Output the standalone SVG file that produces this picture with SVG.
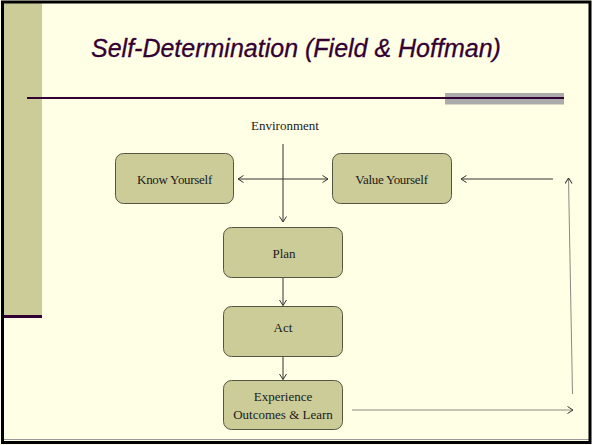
<svg xmlns="http://www.w3.org/2000/svg" width="592" height="445" viewBox="0 0 592 445">
<style>
.node rect{fill:#CCCC99;stroke:#555544;stroke-width:1}
.node text,.lbl{font-family:"Liberation Serif",serif;font-size:13px;fill:#1a1a1a;text-anchor:middle}
.c{stroke:#333;stroke-width:1;fill:none}
.g{stroke:#8a8a80;stroke-width:1;fill:none}
</style>
<defs>
<marker id="a" viewBox="0 0 6 8" refX="6" refY="4" markerWidth="6" markerHeight="8" markerUnits="userSpaceOnUse" orient="auto-start-reverse">
<path d="M0.5,0.5 L6,4 L0.5,7.5" fill="none" stroke="#333" stroke-width="1"/>
</marker>
</defs>
<rect x="0" y="0" width="592" height="445" fill="#FFFFE5"/>
<rect x="4" y="3" width="38" height="312" fill="#CCCC99"/>
<rect x="4" y="315" width="38" height="3" fill="#330033"/>
<rect x="445" y="93" width="119" height="11.5" fill="#ABABAB"/>
<rect x="27" y="97" width="537" height="2" fill="#330033"/>
<line x1="3" y1="439.5" x2="589" y2="439.5" stroke="#999" stroke-width="1"/>
<rect x="2.5" y="2" width="587.5" height="440.5" fill="none" stroke="#000" stroke-width="3"/>
<text x="91" y="57" font-family="'Liberation Sans',Arial,sans-serif" font-style="italic" font-size="25" fill="#330033" stroke="#330033" stroke-width="0.3">Self-Determination (Field &amp; Hoffman)</text>
<text class="lbl" x="285" y="130">Environment</text>
<g id="connectors">
<line class="c" x1="283" y1="144" x2="283" y2="222" marker-end="url(#a)"/>
<line class="c" x1="238" y1="179" x2="328" y2="179" marker-start="url(#a)" marker-end="url(#a)"/>
<line class="c" x1="283" y1="277" x2="283" y2="305.5" marker-end="url(#a)"/>
<line class="c" x1="283" y1="356" x2="283" y2="379.5" marker-end="url(#a)"/>
<line class="g" x1="352" y1="410" x2="573" y2="410" marker-end="url(#a)"/>
<line class="g" x1="572.5" y1="394" x2="568.5" y2="178" marker-end="url(#a)"/>
<line class="c" x1="553" y1="179" x2="461" y2="179" marker-end="url(#a)"/>
</g>
<g id="know" class="node"><rect x="115.5" y="153.5" width="118" height="50" rx="8"/><text x="174.5" y="184" letter-spacing="-0.3">Know Yourself</text></g>
<g id="value" class="node"><rect x="332.5" y="153.5" width="119" height="50" rx="8"/><text x="391.5" y="184" letter-spacing="-0.3">Value Yourself</text></g>
<g id="plan" class="node"><rect x="223.5" y="227.5" width="119" height="50" rx="8"/><text x="284" y="258">Plan</text></g>
<g id="act" class="node"><rect x="223.5" y="306.5" width="119" height="50" rx="8"/><text x="283" y="332">Act</text></g>
<g id="experience" class="node"><rect x="223.5" y="380.5" width="119" height="49" rx="8"/><text x="283" y="401">Experience</text><text x="283" y="418.5">Outcomes &amp; Learn</text></g>
</svg>
